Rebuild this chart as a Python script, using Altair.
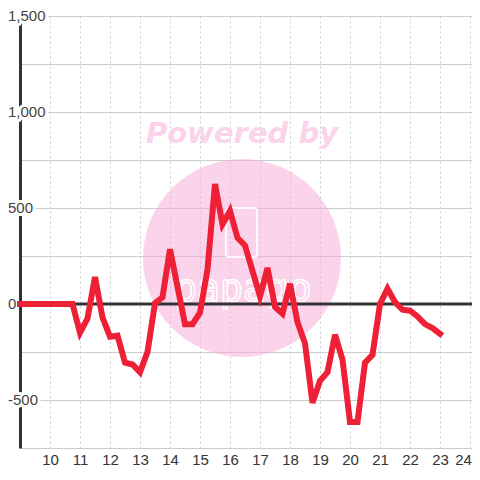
import altair as alt
import pandas as pd

# --- data ---
hours = [9.0, 9.25, 9.5, 9.75, 10.0, 10.25, 10.5, 10.75,
         11.0, 11.25, 11.5, 11.75, 12.0, 12.25, 12.5, 12.75,
         13.0, 13.25, 13.5, 13.75, 14.0, 14.5, 14.75,
         15.0, 15.25, 15.5, 15.75, 16.0, 16.25, 16.5,
         17.0, 17.25, 17.5, 17.75, 18.0, 18.25, 18.5, 18.75,
         19.0, 19.25, 19.5, 19.75, 20.0, 20.25, 20.5, 20.75,
         21.0, 21.25, 21.5, 21.75, 22.0, 22.25, 22.5, 22.75, 23.0]
values = [0, 0, 0, 0, 0, 0, 0, 0,
          -150, -75, 140, -70, -170, -165, -305, -315,
          -355, -250, 5, 35, 285, -105, -105,
          -45, 180, 625, 415, 485, 345, 305,
          40, 188, -15, -50, 105, -95, -205, -515,
          -400, -355, -160, -290, -615, -615, -305, -265,
          0, 80, 10, -30, -35, -65, -105, -125, -155]

x_ticks = list(range(10, 25))
y_grid = [-750, -500, -250, 0, 250, 500, 750, 1000, 1250, 1500]
y_label_values = [1500, 1000, 500, 0, -500]
y_label_texts = ["1,500", "1,000", "500", "0", "-500"]

df = pd.DataFrame({"hour": hours, "value": values})
ylab = pd.DataFrame({"v": y_label_values, "t": y_label_texts})
one = pd.DataFrame({"a": [0]})

FONT = "Liberation Sans"
W, H = 452, 432
xscale = alt.Scale(domain=[9, 9 + W / 30], nice=False, zero=False)
yscale = alt.Scale(domain=[-750, 1500], nice=False, zero=False)

xaxis = alt.Axis(values=x_ticks, grid=True, gridColor="#cccccc", gridDash=[2, 3],
                 gridWidth=1, ticks=False, domainColor="#cccccc", domainWidth=1,
                 labelFontSize=15, labelFont=FONT, labelColor="#333333",
                 labelPadding=4, title=None, format="d",
                 labelOffset={"condition": {"test": "datum.value == 24", "value": -7},
                              "value": 0})
yaxis = alt.Axis(values=y_grid, grid=True, gridColor="#cccccc", gridWidth=1,
                 ticks=False, labels=False, domainColor="#333333", domainWidth=3,
                 title=None)

line = alt.Chart(df).mark_line(color="#ee2036", strokeWidth=6, strokeCap="square",
                               strokeJoin="miter").encode(
    x=alt.X("hour:Q", scale=xscale, axis=xaxis),
    y=alt.Y("value:Q", scale=yscale, axis=yaxis),
)

# watermark
circle = alt.Chart(one).mark_circle(size=39204, color="#f7a9d9", opacity=0.5).encode(
    x=alt.value(222), y=alt.value(242))
powered = alt.Chart(one).mark_text(text="Powered by", font="DejaVu Sans", fontSize=29,
                                   fontWeight="bold", fontStyle="italic",
                                   color="#fbd3ea", align="center",
                                   baseline="middle").encode(
    x=alt.value(222), y=alt.value(118))
logo_box = alt.Chart(one).mark_rect(fill="transparent", stroke="white", strokeWidth=2,
                                    cornerRadius=3, opacity=0.9).encode(
    x=alt.value(206), x2=alt.value(237), y=alt.value(192), y2=alt.value(241))
logo_text = alt.Chart(one).mark_text(text="papago", font="DejaVu Sans Mono", fontSize=38,
                                     fill="transparent", stroke="white", strokeWidth=1.5,
                                     align="center", baseline="middle").encode(
    x=alt.value(223), y=alt.value(274))

zero = alt.Chart(pd.DataFrame({"y": [0]})).mark_rule(color="#333333", strokeWidth=3).encode(
    y=alt.Y("y:Q", scale=yscale))

halo = alt.Chart(ylab).mark_text(align="left", baseline="middle", fontSize=15, font=FONT,
                                 fill="white", stroke="white", strokeWidth=6,
                                 strokeJoin="round").encode(
    x=alt.value(-12), y=alt.Y("v:Q", scale=yscale), text="t:N")
labels = alt.Chart(ylab).mark_text(align="left", baseline="middle", fontSize=15, font=FONT,
                                   color="#444444").encode(
    x=alt.value(-12), y=alt.Y("v:Q", scale=yscale), text="t:N")

chart = alt.layer(circle, powered, logo_box, logo_text, zero, halo, labels, line).properties(
    width=W, height=H,
    padding={"left": 12, "top": 8, "right": 0, "bottom": 24},
    autosize=alt.AutoSizeParams(type="none"),
).configure_view(strokeWidth=0)

chart.save("out.html", embed_options={"renderer": "svg", "actions": False})
